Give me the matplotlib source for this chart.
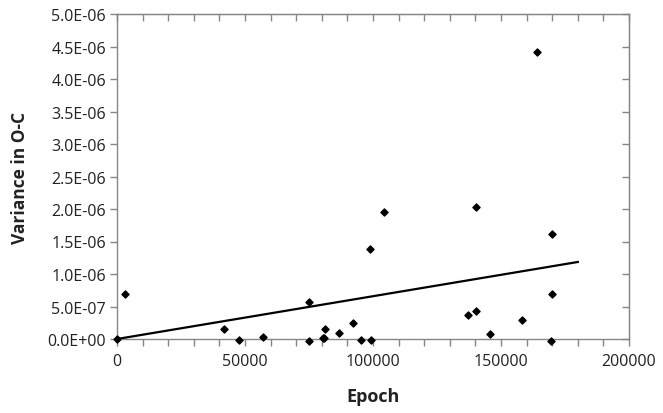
import matplotlib
matplotlib.use("Agg")
import matplotlib.pyplot as plt
from matplotlib.ticker import MultipleLocator, FuncFormatter

# Data
epoch = [0, 3100, 41900, 47800, 56900, 74900, 74900, 80300, 80700, 81100,
         86800, 92300, 95300, 98700, 99100, 104300, 137000, 140400, 140400,
         145700, 158300, 164200, 169500, 169900, 169900]
variance = [0.0, 0.70e-6, 0.154e-6, -0.01e-6, 0.026e-6, 0.565e-6, -0.026e-6,
            0.01e-6, 0.01e-6, 0.154e-6, 0.087e-6, 0.24e-6, -0.01e-6, 1.39e-6,
            -0.01e-6, 1.95e-6, 0.37e-6, 2.03e-6, 0.435e-6, 0.072e-6, 0.287e-6,
            4.42e-6, -0.026e-6, 1.62e-6, 0.70e-6]
trend_x = [0, 180000]
trend_y = [0.0, 1.185e-6]

x_label = "Epoch"
y_label = "Variance in O-C"

plt.rcParams['font.family'] = ['Open Sans', 'DejaVu Sans']

fig = plt.figure(figsize=(6.63, 4.14), dpi=100)
ax = fig.add_axes([117/663, 74/414, (629-117)/663, (340-15)/414])

spine_col = '#868686'
text_col = '#222222'

ax.plot(trend_x, trend_y, color='black', lw=1.6, zorder=3)
ax.scatter(epoch, variance, marker='D', s=13, color='black', zorder=4, clip_on=False)

ax.set_xlim(0, 200000)
ax.set_ylim(0, 5e-6)

ax.xaxis.set_major_locator(MultipleLocator(50000))
ax.xaxis.set_minor_locator(MultipleLocator(10000))
ax.yaxis.set_major_locator(MultipleLocator(0.5e-6))
ax.yaxis.set_major_formatter(FuncFormatter(lambda v, p: f"{v:.1E}"))

for s in ax.spines.values():
    s.set_color(spine_col)
    s.set_linewidth(1.0)

ax.tick_params(axis='both', which='both', direction='out', length=5, width=1,
               color=spine_col, labelsize=11.5, labelcolor=text_col)
ax.tick_params(axis='x', pad=5)
ax.tick_params(axis='y', pad=3)

# top and right ticks pointing inward
secx = ax.secondary_xaxis('top')
secx.xaxis.set_major_locator(MultipleLocator(10000))
secx.tick_params(direction='in', length=5, width=1, color=spine_col, labeltop=False)
secx.spines['top'].set_color(spine_col)
secy = ax.secondary_yaxis('right')
secy.yaxis.set_major_locator(MultipleLocator(0.5e-6))
secy.tick_params(direction='in', length=5, width=1, color=spine_col, labelright=False)
secy.spines['right'].set_color(spine_col)

ax.set_xlabel(x_label, fontsize=13, fontweight='bold', color=text_col, labelpad=13)
ax.set_ylabel(y_label, fontsize=12.5, fontweight='bold', color=text_col, labelpad=13)

fig.savefig("out.png", dpi=100)
